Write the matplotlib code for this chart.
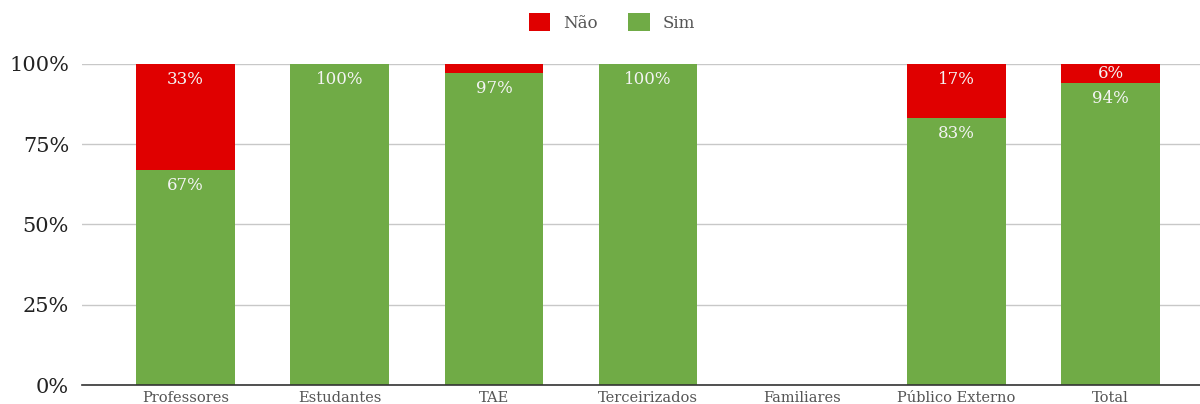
import matplotlib.pyplot as plt
import numpy as np

categories = ["Professores", "Estudantes", "TAE", "Terceirizados", "Familiares",
              "Público Externo", "Total"]
sim = [67, 100, 97, 100, 0, 83, 94]
nao = [33, 0, 3, 0, 0, 17, 6]

plt.rcParams['font.family'] = ['DejaVu Serif']

fig = plt.figure(figsize=(12, 4.04), dpi=100)
ax = fig.add_axes([0.068, 0.047, 0.932, 0.795])

x = np.arange(len(categories))
green = "#70ab46"
red = "#e00000"
ax.bar(x, sim, width=0.64, color=green, label="Sim", zorder=2)
ax.bar(x, nao, width=0.64, bottom=sim, color=red, label="Não", zorder=2)

# labels at the top of each segment (too small segments get none)
for i in range(len(x)):
    if sim[i] > 0:
        ax.annotate(f"{sim[i]}%", (x[i], sim[i]), xytext=(0, -5), textcoords="offset points",
                    ha="center", va="top", color="#f4f4f4", fontsize=12, zorder=3)
    if nao[i] >= 5:
        ax.annotate(f"{nao[i]}%", (x[i], sim[i] + nao[i]), xytext=(0, -1 if nao[i] < 10 else -5),
                    textcoords="offset points",
                    ha="center", va="top", color="#f4f4f4", fontsize=12, zorder=3)

ax.set_xlim(-0.675, 6.58)
ax.set_ylim(0, 100)
ax.set_yticks([0, 25, 50, 75, 100])
ax.set_yticklabels(["0%", "25%", "50%", "75%", "100%"], fontsize=15, color="#222222")
ax.set_xticks(x)
ax.set_xticklabels(categories, fontsize=10.5, color="#555555")
ax.tick_params(length=0, pad=4)
ax.tick_params(axis="y", pad=9)
ax.grid(axis="y", color="#c8c8c8", linewidth=1, zorder=0)
for s in ["top", "right", "left"]:
    ax.spines[s].set_visible(False)
ax.spines["bottom"].set_color("#333333")
ax.spines["bottom"].set_linewidth(1.2)
ax.spines["bottom"].set_zorder(4)

h, l = ax.get_legend_handles_labels()
fig.legend(h[::-1], l[::-1], loc="center", bbox_to_anchor=(0.51, 0.945), ncol=2, frameon=False,
           fontsize=12, labelcolor="#555555", handlelength=1.3, handleheight=1.3,
           columnspacing=1.8, handletextpad=0.8)

fig.savefig("out.png", dpi=100)
